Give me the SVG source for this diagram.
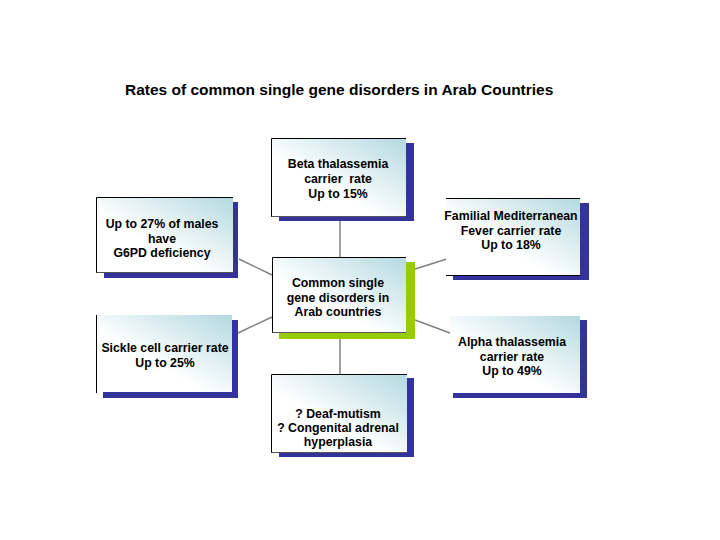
<svg xmlns="http://www.w3.org/2000/svg" width="720" height="540" viewBox="0 0 720 540">
<defs>
<linearGradient id="g" x1="0" y1="1" x2="1" y2="0">
<stop offset="0" stop-color="#ffffff"/>
<stop offset="0.4" stop-color="#ffffff"/>
<stop offset="1" stop-color="#b3d9df"/>
</linearGradient>
</defs>
<style>
.sh{fill:#333399}
.shg{fill:#99cc00}
.bx{fill:url(#g)}
.ed{fill:none;stroke:#000;stroke-width:1}
.eb{fill:none;stroke:#555;stroke-width:1}
.t{font-family:"Liberation Sans",Arial,sans-serif;font-weight:bold;font-size:12.3px;fill:#000;text-anchor:middle}
.ttl{font-family:"Liberation Sans",Arial,sans-serif;font-weight:bold;font-size:15.5px;fill:#000}
.c{stroke:#808080;stroke-width:1.5;fill:none}
</style>
<rect width="720" height="540" fill="#fff"/>
<text class="ttl" x="125" y="95">Rates of common single gene disorders in Arab Countries</text>
<g id="connectors">
<line class="c" x1="340" y1="221" x2="340" y2="257"/>
<line class="c" x1="340" y1="339" x2="340" y2="374"/>
<line class="c" x1="239" y1="259" x2="272" y2="275"/>
<line class="c" x1="238" y1="333" x2="272" y2="317"/>
<line class="c" x1="415" y1="269" x2="450" y2="258"/>
<line class="c" x1="415" y1="320" x2="450" y2="333"/>
</g>
<g id="beta">
<rect class="sh" x="279" y="143" width="135" height="78"/>
<rect class="bx" x="271" y="138" width="135" height="79"/>
<path class="ed" d="M271.5,217 V138.5 H406"/>
<path class="eb" d="M271.5,216.5 H406"/>
<text class="t" x="338" y="168">Beta thalassemia</text>
<text class="t" x="338" y="183" xml:space="preserve">carrier  rate</text>
<text class="t" x="338" y="198">Up to 15%</text>
</g>
<g id="g6pd">
<rect class="sh" x="104" y="202" width="134" height="76"/>
<rect class="bx" x="96" y="197" width="137" height="76"/>
<path class="ed" d="M96.5,273 V197.5 H233"/>
<path class="eb" d="M96.5,272.5 H233"/>
<text class="t" x="162" y="228">Up to 27% of males</text>
<text class="t" x="162" y="243">have</text>
<text class="t" x="162" y="257">G6PD deficiency</text>
</g>
<g id="center">
<rect class="shg" x="279" y="262" width="136" height="77"/>
<rect class="bx" x="272" y="257" width="134" height="76"/>
<path class="ed" d="M272.5,333 V257.5 H406"/>
<path class="eb" d="M272.5,332.5 H406"/>
<text class="t" x="338" y="287">Common single</text>
<text class="t" x="338" y="302">gene disorders in</text>
<text class="t" x="338" y="316">Arab countries</text>
</g>
<g id="fmf">
<rect class="sh" x="453" y="203" width="136" height="77"/>
<rect class="bx" x="446" y="198" width="134" height="78"/>
<path class="ed" d="M446,198.5 H580"/>
<path class="ed" d="M446,275.5 H580"/>
<text class="t" x="511" y="220">Familial Mediterranean</text>
<text class="t" x="511" y="235">Fever carrier rate</text>
<text class="t" x="511" y="249">Up to 18%</text>
</g>
<g id="sickle">
<rect class="sh" x="103" y="320" width="135" height="78"/>
<rect class="bx" x="96" y="315" width="136" height="77"/>
<path class="ed" d="M96.5,315 V393"/>
<text class="t" x="165" y="352">Sickle cell carrier rate</text>
<text class="t" x="165" y="367">Up to 25%</text>
</g>
<g id="alpha">
<rect class="sh" x="453" y="320" width="134" height="78"/>
<rect class="bx" x="450" y="316" width="130" height="77"/>
<text class="t" x="512" y="346">Alpha thalassemia</text>
<text class="t" x="512" y="361">carrier rate</text>
<text class="t" x="512" y="375">Up to 49%</text>
</g>
<g id="bottom">
<rect class="sh" x="279" y="378" width="135" height="79"/>
<rect class="bx" x="271" y="374" width="136" height="79"/>
<path class="ed" d="M271.5,453 V374.5 H407"/>
<path class="eb" d="M271.5,452.5 H407"/>
<text class="t" x="338" y="418">? Deaf-mutism</text>
<text class="t" x="338" y="432">? Congenital adrenal</text>
<text class="t" x="338" y="446">hyperplasia</text>
</g>
</svg>
